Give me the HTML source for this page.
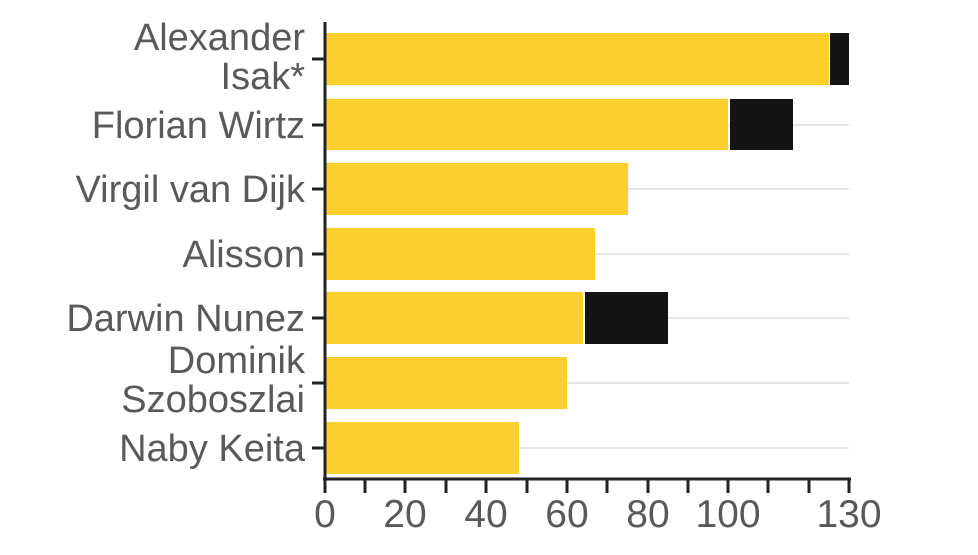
<!DOCTYPE html>
<html><head><style>
body{margin:0;background:#fff;}
svg text{font-family:"Liberation Sans",sans-serif;fill:#595959;}
</style></head><body>
<svg width="978" height="550" xmlns="http://www.w3.org/2000/svg">
<g stroke="#e6e6e6" stroke-width="2">
<line x1="325" x2="849" y1="59" y2="59"/><line x1="325" x2="849" y1="125" y2="125"/>
<line x1="325" x2="849" y1="189" y2="189"/><line x1="325" x2="849" y1="254" y2="254"/>
<line x1="325" x2="849" y1="318" y2="318"/><line x1="325" x2="849" y1="383" y2="383"/>
<line x1="325" x2="849" y1="448" y2="448"/>
</g>
<g fill="#fdd02f">
<rect x="325" y="33" width="504" height="52"/>
<rect x="325" y="99" width="403" height="51"/>
<rect x="325" y="163" width="303" height="52"/>
<rect x="325" y="228" width="270" height="52"/>
<rect x="325" y="292" width="258" height="52"/>
<rect x="325" y="357" width="242" height="52"/>
<rect x="325" y="422" width="194" height="52"/>
</g>
<g fill="#141414">
<rect x="830" y="33" width="19" height="52"/>
<rect x="730" y="99" width="63" height="51"/>
<rect x="585" y="292" width="83" height="52"/>
</g>
<g stroke="#222" stroke-width="3">
<line x1="325" y1="22" x2="325" y2="480"/>
<line x1="323" y1="479" x2="851" y2="479"/>
<line x1="312" x2="325" y1="59" y2="59"/><line x1="312" x2="325" y1="125" y2="125"/>
<line x1="312" x2="325" y1="189" y2="189"/><line x1="312" x2="325" y1="254" y2="254"/>
<line x1="312" x2="325" y1="318" y2="318"/><line x1="312" x2="325" y1="383" y2="383"/>
<line x1="312" x2="325" y1="448" y2="448"/>
<line x1="325" x2="325" y1="479" y2="493"/><line x1="365" x2="365" y1="479" y2="493"/>
<line x1="405" x2="405" y1="479" y2="493"/><line x1="446" x2="446" y1="479" y2="493"/>
<line x1="486" x2="486" y1="479" y2="493"/><line x1="527" x2="527" y1="479" y2="493"/>
<line x1="567" x2="567" y1="479" y2="493"/><line x1="607" x2="607" y1="479" y2="493"/>
<line x1="648" x2="648" y1="479" y2="493"/><line x1="688" x2="688" y1="479" y2="493"/>
<line x1="728" x2="728" y1="479" y2="493"/><line x1="768" x2="768" y1="479" y2="493"/>
<line x1="809" x2="809" y1="479" y2="493"/><line x1="849" x2="849" y1="479" y2="493"/>
</g>
<g font-size="38" text-anchor="end">
<text x="305" y="50">Alexander</text><text x="305" y="89">Isak*</text>
<text x="305" y="138">Florian Wirtz</text>
<text x="305" y="202">Virgil van Dijk</text>
<text x="305" y="267">Alisson</text>
<text x="305" y="331">Darwin Nunez</text>
<text x="305" y="373">Dominik</text><text x="305" y="412">Szoboszlai</text>
<text x="305" y="461">Naby Keita</text>
</g>
<g font-size="39" text-anchor="middle">
<text x="325" y="527">0</text><text x="405" y="527">20</text><text x="486" y="527">40</text>
<text x="567" y="527">60</text><text x="648" y="527">80</text><text x="728" y="527">100</text>
<text x="849" y="527">130</text>
</g>
</svg>
</body></html>
